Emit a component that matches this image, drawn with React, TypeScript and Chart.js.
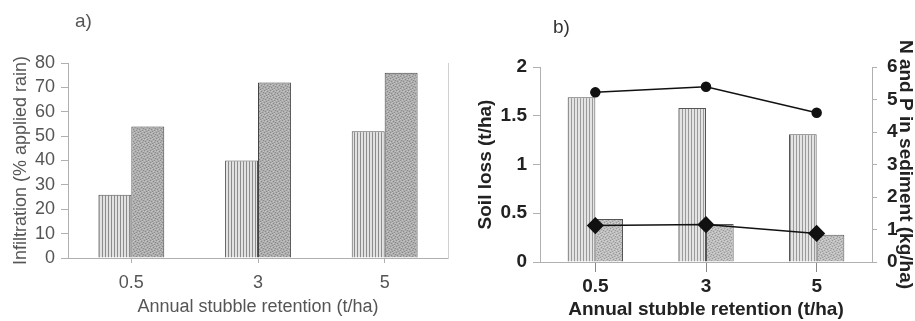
import React, { useEffect, useRef } from "react";
import { Chart, registerables } from "chart.js";

Chart.register(...registerables);

const categories = ["0.5", "3", "5"];
const infiltrationHatched = [26, 40, 52];
const infiltrationStippled = [54, 72, 76];
const soilLossHatched = [1.69, 1.58, 1.31];
const soilLossStippled = [0.44, 0.39, 0.28];
const nutrientUpper = [5.22, 5.39, 4.59];
const nutrientLower = [1.12, 1.15, 0.88];

const FAMILY = "'Liberation Sans', Arial, sans-serif";

function hatchPattern(bg: string, line: string): CanvasPattern | string {
  const c = document.createElement("canvas");
  c.width = 3;
  c.height = 3;
  const ctx = c.getContext("2d");
  if (!ctx) return bg;
  ctx.fillStyle = bg;
  ctx.fillRect(0, 0, 3, 3);
  ctx.fillStyle = line;
  ctx.fillRect(0, 0, 1, 3);
  return ctx.createPattern(c, "repeat") || bg;
}

function stipplePattern(bg: string, dark: string, light: string): CanvasPattern | string {
  const c = document.createElement("canvas");
  c.width = 6;
  c.height = 6;
  const ctx = c.getContext("2d");
  if (!ctx) return bg;
  ctx.fillStyle = bg;
  ctx.fillRect(0, 0, 6, 6);
  const darkPts = [[0, 0], [3, 1], [1, 3], [4, 4], [5, 2], [2, 5]];
  const lightPts = [[2, 0], [5, 1], [0, 4], [3, 3], [1, 1], [4, 5]];
  ctx.fillStyle = dark;
  darkPts.forEach(([x, y]) => ctx.fillRect(x, y, 1, 1));
  ctx.fillStyle = light;
  lightPts.forEach(([x, y]) => ctx.fillRect(x, y, 1, 1));
  return ctx.createPattern(c, "repeat") || bg;
}

export default function App() {
  const refA = useRef<HTMLCanvasElement>(null);
  const refB = useRef<HTMLCanvasElement>(null);

  useEffect(() => {
    const fontA = { family: FAMILY, size: 18, weight: "normal" as const };
    const fontB = { family: FAMILY, size: 19, weight: "bold" as const };
    const textA = "#555";
    const textB = "#222";
    const axisCol = "#b0b0b0";

    const chartA = new Chart(refA.current!, {
      type: "bar",
      data: {
        labels: categories,
        datasets: [
          {
            data: infiltrationHatched,
            backgroundColor: hatchPattern("#e2e2e2", "#8c8c8c") as any,
            borderColor: "#555",
            borderWidth: { left: 1, right: 1, top: 1, bottom: 0 } as any,
            borderSkipped: false,
          },
          {
            data: infiltrationStippled,
            backgroundColor: stipplePattern("#adadad", "#8a8a8a", "#c4c4c4") as any,
            borderColor: "#444",
            borderWidth: { left: 1, right: 1, top: 1, bottom: 0 } as any,
            borderSkipped: false,
          },
        ],
      },
      options: {
        animation: false,
        responsive: false,
        devicePixelRatio: 1,
        layout: { padding: { top: 63, left: 0, right: 0, bottom: 0 } },
        datasets: { bar: { categoryPercentage: 0.52, barPercentage: 1 } },
        plugins: { legend: { display: false }, tooltip: { enabled: false } },
        scales: {
          x: {
            offset: true,
            grid: { display: true, drawOnChartArea: false, drawTicks: true, tickLength: 5, offset: false, color: axisCol },
            border: { display: true, color: axisCol },
            ticks: { font: fontA, color: textA, padding: 9, autoSkip: false },
            title: { display: true, text: "Annual stubble retention (t/ha)", font: fontA, color: textA, padding: { top: 0, bottom: 3 } },
            afterFit: (s: any) => { s.height = 63; },
          },
          y: {
            min: 0,
            max: 80,
            ticks: { stepSize: 10, font: fontA, color: textA, padding: 6, autoSkip: false },
            grid: { display: true, drawOnChartArea: false, drawTicks: true, tickLength: 7, color: axisCol },
            border: { display: true, color: axisCol },
            title: { display: true, text: "Infiltration (% applied rain)", font: fontA, color: textA, padding: { top: 10, bottom: 0 } },
            afterFit: (s: any) => { s.width = 68; },
          },
          yR: {
            position: "right",
            display: true,
            min: 0,
            max: 80,
            ticks: { display: false },
            grid: { display: false },
            border: { display: true, color: "#d0d0d0" },
            afterFit: (s: any) => { s.width = 12; },
          },
        },
      } as any,
    });

    const chartB = new Chart(refB.current!, {
      type: "bar",
      data: {
        labels: categories,
        datasets: [
          {
            type: "line",
            data: nutrientUpper,
            yAxisID: "y2",
            borderColor: "#111",
            borderWidth: 1.5,
            pointStyle: "circle",
            pointRadius: 4.5,
            pointBackgroundColor: "#111",
            pointBorderColor: "#111",
            order: 0,
          } as any,
          {
            type: "line",
            data: nutrientLower,
            yAxisID: "y2",
            borderColor: "#111",
            borderWidth: 1.5,
            pointStyle: "rectRot",
            pointRadius: 7.5,
            pointBackgroundColor: "#111",
            pointBorderColor: "#111",
            order: 0,
          } as any,
          {
            data: soilLossHatched,
            yAxisID: "y",
            backgroundColor: hatchPattern("#e4e4e4", "#9a9a9a") as any,
            borderColor: "#555",
            borderWidth: { left: 1, right: 1, top: 1, bottom: 0 } as any,
            borderSkipped: false,
            order: 1,
          },
          {
            data: soilLossStippled,
            yAxisID: "y",
            backgroundColor: stipplePattern("#bdbdbd", "#999", "#d2d2d2") as any,
            borderColor: "#555",
            borderWidth: { left: 1, right: 1, top: 1, bottom: 0 } as any,
            borderSkipped: false,
            order: 1,
          },
        ],
      },
      options: {
        animation: false,
        responsive: false,
        devicePixelRatio: 1,
        layout: { padding: { top: 67, left: 0, right: 0, bottom: 0 } },
        datasets: { bar: { categoryPercentage: 0.5, barPercentage: 1 } },
        plugins: { legend: { display: false }, tooltip: { enabled: false } },
        scales: {
          x: {
            offset: true,
            grid: { display: true, drawOnChartArea: false, drawTicks: true, tickLength: 10, offset: false, color: "#888" },
            border: { display: true, color: axisCol },
            ticks: { font: fontB, color: textB, padding: 3, autoSkip: false },
            title: { display: true, text: "Annual stubble retention (t/ha)", font: fontB, color: textB, padding: { top: 0, bottom: 0 } },
            afterFit: (s: any) => { s.height = 59; },
          },
          y: {
            position: "left",
            min: 0,
            max: 2,
            ticks: { stepSize: 0.5, font: fontB, color: textB, padding: 6, autoSkip: false, callback: (v: any) => String(v) },
            grid: { display: true, drawOnChartArea: false, drawTicks: true, tickLength: 7, color: axisCol },
            border: { display: true, color: axisCol },
            title: { display: true, text: "Soil loss (t/ha)", font: fontB, color: textB, padding: { top: 14, bottom: 0 } },
            afterFit: (s: any) => { s.width = 80; },
          },
          y2: {
            position: "right",
            min: 0,
            max: 6,
            ticks: { stepSize: 1, font: fontB, color: textB, padding: 10, autoSkip: false },
            grid: { display: true, drawOnChartArea: false, drawTicks: true, tickLength: 5, color: axisCol },
            border: { display: true, color: axisCol },
            title: { display: true, text: "N and P in sediment (kg/ha)", font: fontB, color: textB, padding: { top: 13, bottom: 0 } },
            afterFit: (s: any) => { s.width = 58; },
          },
        },
      } as any,
    });

    return () => {
      chartA.destroy();
      chartB.destroy();
    };
  }, []);

  return (
    <div style={{ position: "fixed", left: 0, top: 0, width: 915, height: 321, overflow: "hidden", background: "#fff" }}>
      <canvas ref={refA} width={460} height={321} style={{ position: "absolute", left: 0, top: 0, width: 460, height: 321 }} />
      <canvas ref={refB} width={470} height={321} style={{ position: "absolute", left: 460, top: 0, width: 470, height: 321 }} />
      <div style={{ position: "absolute", left: 75, top: 10, font: `19px ${FAMILY}`, color: "#555", lineHeight: "22px" }}>a)</div>
      <div style={{ position: "absolute", left: 553, top: 16, font: `19px ${FAMILY}`, color: "#333", lineHeight: "22px" }}>b)</div>
    </div>
  );
}
